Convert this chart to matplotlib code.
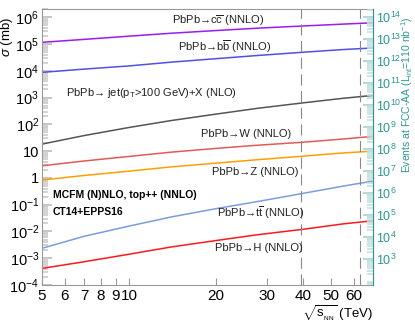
import numpy as np
import matplotlib.pyplot as plt
from matplotlib.ticker import FixedLocator, FuncFormatter, LogLocator, NullFormatter

plt.rcParams['font.family'] = ['Liberation Sans', 'DejaVu Sans']
plt.rcParams['mathtext.fontset'] = 'custom'
plt.rcParams['mathtext.rm'] = 'Liberation Sans'
plt.rcParams['mathtext.it'] = 'Liberation Sans:italic'
plt.rcParams['mathtext.bf'] = 'Liberation Sans:bold'

# sqrt(s_NN) in TeV, cross sections in mb
energy = [5, 7, 10, 14, 20, 28, 40, 55, 70]
sig_cc = [1.15e5, 1.48e5, 1.95e5, 2.51e5, 3.16e5, 3.89e5, 4.68e5, 5.50e5, 6.17e5]
sig_bb = [8.7e3, 1.15e4, 1.51e4, 2.09e4, 2.82e4, 3.72e4, 4.90e4, 6.17e4, 7.08e4]
sig_jet = [18.2, 38, 76, 138, 240, 398, 631, 933, 1202]
sig_W = [2.82, 4.27, 6.31, 9.12, 12.6, 16.6, 21.4, 28.2, 35.5]
sig_Z = [0.83, 1.23, 1.78, 2.57, 3.55, 4.79, 6.46, 8.51, 10.0]
sig_tt = [2.34e-3, 6.6e-3, 1.58e-2, 3.47e-2, 7.08e-2, 0.132, 0.263, 0.49, 0.76]
sig_H = [4.17e-4, 7.4e-4, 1.41e-3, 2.63e-3, 4.57e-3, 7.59e-3, 1.20e-2, 1.91e-2, 2.51e-2]
fcc_lines = [39.4, 63]

teal = '#2f9494'

fig = plt.figure(figsize=(4.15, 3.25), dpi=100)
ax = fig.add_axes([0.101, 0.123, 0.798, 0.849])

ax.plot(energy, sig_cc, color='#9a1cf0', lw=1.1)
ax.plot(energy, sig_bb, color='#5050e6', lw=1.1)
ax.plot(energy, sig_jet, color='#555555', lw=1.1)
ax.plot(energy, sig_W, color='#e05a5a', lw=1.1)
ax.plot(energy, sig_Z, color='#ffa000', lw=1.1)
ax.plot(energy, sig_tt, color='#7e9be0', lw=1.1)
ax.plot(energy, sig_H, color='#ff1a1a', lw=1.1)
for e in fcc_lines:
    ax.axvline(e, color='#888888', lw=0.8, ls=(0, (10, 5)))

ax.set_xscale('log')
ax.set_yscale('log')
ax.set_xlim(5, 70)
ax.set_ylim(1e-4, 2e6)

xt = [5, 6, 7, 8, 9, 10, 20, 30, 40, 50, 60]
ax.xaxis.set_major_locator(FixedLocator(xt))
ax.xaxis.set_minor_locator(FixedLocator([]))
ax.xaxis.set_major_formatter(FuncFormatter(lambda v, p: '%d' % v))
ax.xaxis.set_minor_formatter(NullFormatter())


def ylab(v, p):
    k = int(round(np.log10(v)))
    if k == 0:
        return '1'
    if k == 1:
        return '10'
    return r'$10^{%d}$' % k


ax.yaxis.set_major_locator(LogLocator(base=10, numticks=20))
ax.yaxis.set_minor_locator(LogLocator(base=10, subs=np.arange(2, 10), numticks=20))
ax.yaxis.set_major_formatter(FuncFormatter(ylab))
ax.yaxis.set_minor_formatter(NullFormatter())
ax.tick_params(axis='x', which='major', direction='in', length=5, color='#999999',
               labelsize=11, pad=3)
ax.tick_params(axis='y', which='major', direction='in', length=7, color='#bbbbbb',
               labelsize=10.5, pad=2, width=1.2)
ax.tick_params(axis='y', which='minor', direction='in', length=4, color='#cccccc', width=1.2)
for s in ax.spines.values():
    s.set_color('#999999')
    s.set_linewidth(0.8)

ax.set_ylabel(r'$\sigma$ (mb)', fontsize=9.5, labelpad=0)
ax.yaxis.set_label_coords(-0.08, 0.90)
ax.text(1.0, -0.103, r'$\sqrt{\mathrm{s}_{_{\rm NN}}}$ (TeV)', transform=ax.transAxes,
        ha='right', va='center', fontsize=9.5)

# right axis: expected events
ax2 = ax.twinx()
ax2.set_yscale('log')
ax2.set_ylim(10**1.82, 10**14.36)
ax2.yaxis.set_major_locator(FixedLocator([10.0**k for k in range(3, 15)]))
ax2.yaxis.set_minor_locator(LogLocator(base=10, subs=np.arange(2, 10), numticks=30))
ax2.yaxis.set_major_formatter(FuncFormatter(lambda v, p: r'$10^{%d}$' % int(round(np.log10(v)))))
ax2.yaxis.set_minor_formatter(NullFormatter())
ax2.tick_params(axis='y', which='major', direction='in', length=7, color='#a8d0d0',
                labelsize=9, labelcolor=teal, pad=2, width=1.2)
ax2.tick_params(axis='y', which='minor', direction='in', length=4, color='#c4e0e0', width=1.2)
for s in ax2.spines.values():
    s.set_visible(False)
ax2.spines['right'].set_visible(True)
ax2.spines['right'].set_color(teal)
ax2.set_ylabel(r'Events at FCC-AA (L$_{\rm int}$=110 nb$^{-1}$)', color=teal, fontsize=7.5)
ax2.yaxis.set_label_coords(1.078, 0.69)

lab = dict(transform=ax.transAxes, fontsize=8, va='center', ha='left', color='#222222')
W, H = 331.0, 276.0
def place(x, y, s, **kw):
    d = dict(lab)
    d.update(kw)
    ax.text((x - 42) / W, (285 - y) / H, s, **d)

place(172, 21, r'PbPb→c$\overline{\rm c}$ (NNLO)')
place(178, 47, r'PbPb→b$\overline{\rm b}$ (NNLO)')
place(66, 93, r'PbPb→ jet(p$_{\rm T}$>100 GeV)+X (NLO)')
place(201, 134, r'PbPb→W (NNLO)')
place(212, 172, r'PbPb→Z (NNLO)')
place(217, 213, r'PbPb→t$\overline{\rm t}$ (NNLO)')
place(215, 248, r'PbPb→H (NNLO)')
place(53, 195, 'MCFM (N)NLO, top++ (NNLO)', fontweight='bold', fontsize=7.5, color='black')
place(53, 212, 'CT14+EPPS16', fontweight='bold', fontsize=7.5, color='black')

fig.savefig('out.png', dpi=100)
